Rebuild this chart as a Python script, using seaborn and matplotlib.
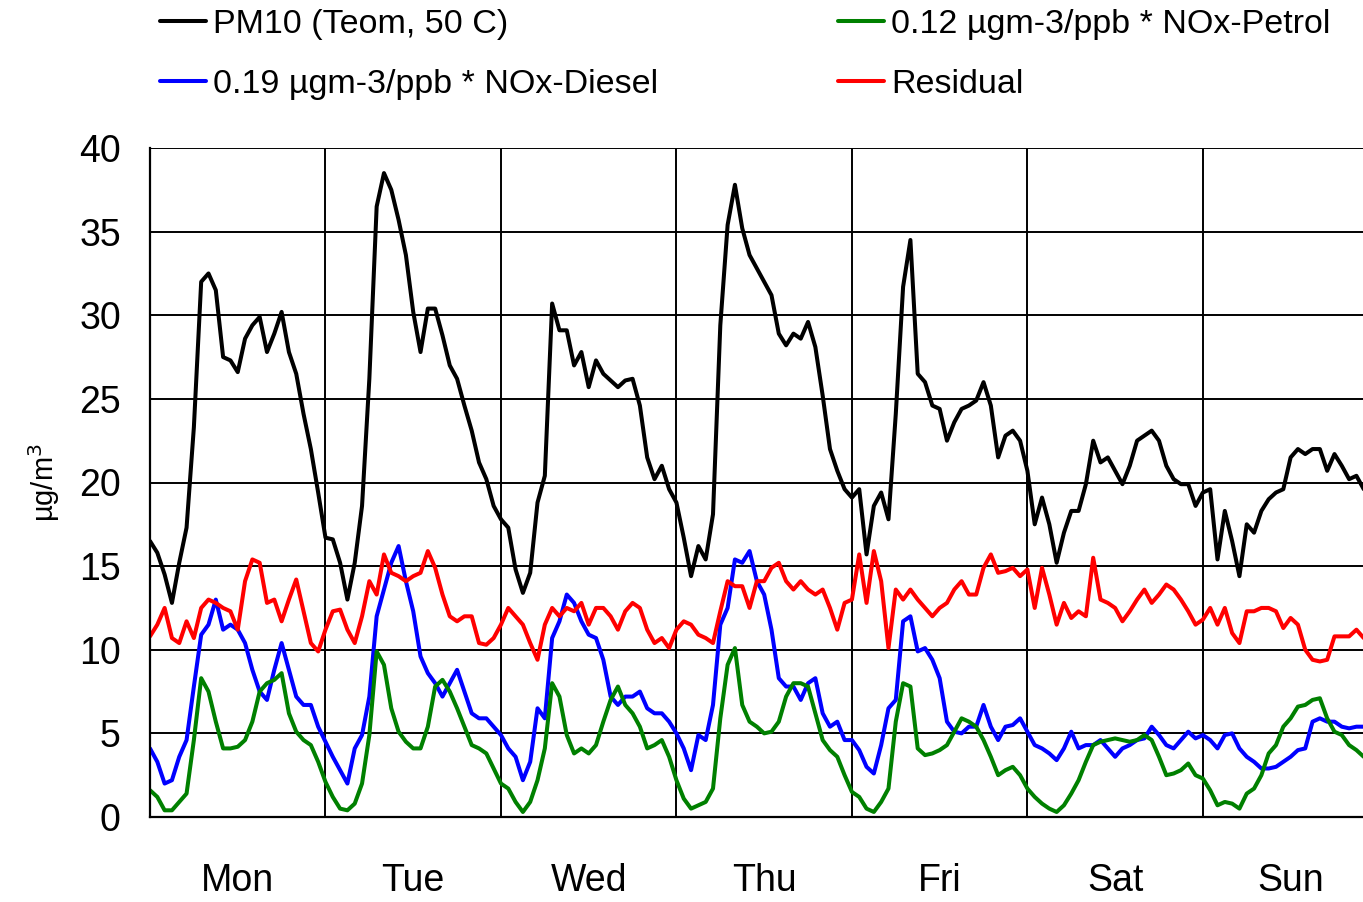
import numpy as np
import pandas as pd
import seaborn as sns
import matplotlib.pyplot as plt
from matplotlib.lines import Line2D

# 一周的小时数据 (Mon 0h ... Sun 22h)
days = ['Mon', 'Tue', 'Wed', 'Thu', 'Fri', 'Sat', 'Sun']

pm10 = [
    16.5, 15.8, 14.5, 12.8, 15.2, 17.3, 23.3, 32.0, 32.5, 31.5, 27.5, 27.3, 26.6, 28.6, 29.4, 29.9, 27.8, 28.9, 30.2, 27.8, 26.5, 24.1, 22.0, 19.4,
    16.7, 16.6, 15.2, 13.0, 15.2, 18.6, 26.2, 36.5, 38.5, 37.5, 35.7, 33.6, 30.2, 27.8, 30.4, 30.4, 28.8, 27.0, 26.2, 24.6, 23.1, 21.2, 20.2, 18.6,
    17.8, 17.3, 14.8, 13.4, 14.6, 18.8, 20.4, 30.7, 29.1, 29.1, 27.0, 27.8, 25.7, 27.3, 26.5, 26.1, 25.7, 26.1, 26.2, 24.6, 21.5, 20.2, 21.0, 19.6,
    18.8, 16.7, 14.4, 16.2, 15.4, 18.1, 29.4, 35.4, 37.8, 35.2, 33.6, 32.8, 32.0, 31.2, 28.9, 28.2, 28.9, 28.6, 29.6, 28.1, 25.2, 22.0, 20.7, 19.6,
    19.1, 19.6, 15.7, 18.6, 19.4, 17.8, 24.1, 31.7, 34.5, 26.5, 26.0, 24.6, 24.4, 22.5, 23.6, 24.4, 24.6, 24.9, 26.0, 24.6, 21.5, 22.8, 23.1, 22.5,
    20.7, 17.5, 19.1, 17.5, 15.2, 17.0, 18.3, 18.3, 19.9, 22.5, 21.2, 21.5, 20.7, 19.9, 21.0, 22.5, 22.8, 23.1, 22.5, 21.0, 20.2, 19.9, 19.9, 18.6,
    19.4, 19.6, 15.4, 18.3, 16.5, 14.4, 17.5, 17.0, 18.3, 19.0, 19.4, 19.6, 21.5, 22.0, 21.7, 22.0, 22.0, 20.7, 21.7, 21.0, 20.2, 20.4, 19.6,
]

diesel = [
    4.1, 3.3, 2.0, 2.2, 3.6, 4.6, 7.8, 10.9, 11.5, 13.0, 11.2, 11.5, 11.2, 10.4, 8.8, 7.5, 7.0, 8.8, 10.4, 8.8, 7.2, 6.7, 6.7, 5.4,
    4.5, 3.6, 2.8, 2.0, 4.1, 4.9, 7.2, 12.0, 13.6, 15.2, 16.2, 14.1, 12.3, 9.6, 8.6, 8.0, 7.2, 8.0, 8.8, 7.5, 6.2, 5.9, 5.9, 5.4,
    4.9, 4.1, 3.6, 2.2, 3.3, 6.5, 5.9, 10.7, 11.7, 13.3, 12.8, 11.7, 10.9, 10.7, 9.4, 7.2, 6.7, 7.2, 7.2, 7.5, 6.5, 6.2, 6.2, 5.7,
    5.0, 4.1, 2.8, 4.9, 4.6, 6.7, 11.5, 12.5, 15.4, 15.2, 15.9, 14.1, 13.3, 11.2, 8.3, 7.8, 7.8, 7.0, 8.0, 8.3, 6.2, 5.4, 5.7, 4.6,
    4.6, 4.0, 3.0, 2.6, 4.3, 6.5, 7.0, 11.7, 12.0, 9.9, 10.1, 9.4, 8.3, 5.7, 5.1, 5.0, 5.4, 5.4, 6.7, 5.4, 4.6, 5.4, 5.5, 5.9,
    5.1, 4.3, 4.1, 3.8, 3.4, 4.1, 5.1, 4.1, 4.3, 4.3, 4.6, 4.1, 3.6, 4.1, 4.3, 4.6, 4.7, 5.4, 4.9, 4.3, 4.1, 4.6, 5.1, 4.7,
    4.9, 4.6, 4.1, 4.9, 5.0, 4.1, 3.6, 3.3, 2.9, 2.9, 3.0, 3.3, 3.6, 4.0, 4.1, 5.7, 5.9, 5.7, 5.7, 5.4, 5.3, 5.4, 5.4,
]

petrol = [
    1.6, 1.2, 0.4, 0.4, 0.9, 1.4, 4.6, 8.3, 7.5, 5.7, 4.1, 4.1, 4.2, 4.6, 5.7, 7.5, 8.0, 8.2, 8.6, 6.2, 5.1, 4.6, 4.3, 3.3,
    2.1, 1.2, 0.5, 0.4, 0.8, 2.0, 4.9, 9.9, 9.1, 6.5, 5.1, 4.5, 4.1, 4.1, 5.4, 7.8, 8.2, 7.5, 6.5, 5.4, 4.3, 4.1, 3.8, 2.9,
    2.0, 1.7, 0.9, 0.3, 0.9, 2.2, 4.1, 8.0, 7.2, 4.9, 3.8, 4.1, 3.8, 4.3, 5.7, 7.0, 7.8, 6.7, 6.2, 5.4, 4.1, 4.3, 4.6, 3.6,
    2.2, 1.1, 0.5, 0.7, 0.9, 1.7, 5.9, 9.1, 10.1, 6.7, 5.7, 5.4, 5.0, 5.1, 5.7, 7.2, 8.0, 8.0, 7.8, 6.2, 4.6, 4.0, 3.6, 2.5,
    1.5, 1.2, 0.5, 0.3, 0.9, 1.7, 5.7, 8.0, 7.8, 4.1, 3.7, 3.8, 4.0, 4.3, 5.1, 5.9, 5.7, 5.4, 4.6, 3.6, 2.5, 2.8, 3.0, 2.5,
    1.7, 1.2, 0.8, 0.5, 0.3, 0.7, 1.4, 2.2, 3.3, 4.3, 4.5, 4.6, 4.7, 4.6, 4.5, 4.6, 4.9, 4.6, 3.6, 2.5, 2.6, 2.8, 3.2, 2.5,
    2.3, 1.6, 0.7, 0.9, 0.8, 0.5, 1.4, 1.7, 2.5, 3.8, 4.3, 5.4, 5.9, 6.6, 6.7, 7.0, 7.1, 5.9, 5.1, 4.9, 4.3, 4.0, 3.6,
]

residual = [
    10.8, 11.5, 12.5, 10.7, 10.4, 11.7, 10.7, 12.5, 13.0, 12.8, 12.5, 12.3, 11.2, 14.1, 15.4, 15.2, 12.8, 13.0, 11.7, 13.0, 14.2, 12.3, 10.4, 9.9,
    11.2, 12.3, 12.4, 11.2, 10.4, 12.0, 14.1, 13.3, 15.7, 14.6, 14.4, 14.1, 14.4, 14.6, 15.9, 14.9, 13.3, 12.0, 11.7, 12.0, 12.0, 10.4, 10.3, 10.7,
    11.5, 12.5, 12.0, 11.5, 10.4, 9.4, 11.5, 12.5, 12.0, 12.5, 12.3, 12.8, 11.5, 12.5, 12.5, 12.0, 11.2, 12.3, 12.8, 12.5, 11.2, 10.4, 10.7, 10.1,
    11.2, 11.7, 11.5, 10.9, 10.7, 10.4, 12.3, 14.1, 13.8, 13.8, 12.5, 14.1, 14.1, 14.9, 15.2, 14.1, 13.6, 14.1, 13.6, 13.3, 13.6, 12.5, 11.2, 12.8,
    13.0, 15.7, 12.8, 15.9, 14.1, 10.1, 13.6, 13.0, 13.6, 13.0, 12.5, 12.0, 12.5, 12.8, 13.6, 14.1, 13.3, 13.3, 14.9, 15.7, 14.6, 14.7, 14.9, 14.4,
    14.8, 12.5, 14.9, 13.3, 11.5, 12.8, 11.9, 12.3, 12.0, 15.5, 13.0, 12.8, 12.5, 11.7, 12.3, 13.0, 13.6, 12.8, 13.3, 13.9, 13.6, 13.0, 12.3, 11.5,
    11.8, 12.5, 11.5, 12.5, 11.0, 10.4, 12.3, 12.3, 12.5, 12.5, 12.3, 11.3, 11.9, 11.5, 10.0, 9.4, 9.3, 9.4, 10.8, 10.8, 10.8, 11.2, 10.7,
]

names = ['PM10 (Teom, 50 C)', '0.19 µgm-3/ppb * NOx-Diesel',
         '0.12 µgm-3/ppb * NOx-Petrol', 'Residual']
colors = ['black', '#0000FF', '#008000', '#FF0000']

hours = np.arange(len(pm10))
df = pd.DataFrame({'hour': hours, names[0]: pm10, names[1]: diesel,
                   names[2]: petrol, names[3]: residual})
long = df.melt(id_vars='hour', var_name='series', value_name='value')

sns.set_style("white")
plt.rcParams['font.family'] = ['Liberation Sans', 'DejaVu Sans']
plt.rcParams['text.color'] = 'black'
plt.rcParams['xtick.color'] = 'black'
plt.rcParams['ytick.color'] = 'black'
plt.rcParams['axes.labelcolor'] = 'black'

fig = plt.figure(figsize=(13.63, 9.02), dpi=100)
ax = fig.add_axes([150 / 1363, 85 / 902, 1 - 150 / 1363, 669 / 902])

sns.lineplot(data=long, x='hour', y='value', hue='series', hue_order=names,
             palette=dict(zip(names, colors)), linewidth=2.9, ax=ax, legend=False)

ax.set_yticks(np.arange(0, 41, 5))
ax.set_xticks(np.arange(0, 169, 24))
ax.set_xticklabels([])
ax.set_xticks(np.arange(12, 168, 24), minor=True)
ax.set_xticklabels(days, minor=True)
ax.set_xlim(0, 165.9)
ax.set_ylim(0, 40)
ax.tick_params(axis='x', which='minor', length=0, pad=33, labelsize=27)
ax.tick_params(axis='x', which='major', length=9, width=1.3, direction='out')
ax.tick_params(axis='y', length=7, width=1.3, pad=14, labelsize=27, direction='out')
ax.grid(True, which='major', color='black', linewidth=1.4)
for s in ['top', 'right']:
    ax.spines[s].set_visible(False)
for s in ['left', 'bottom']:
    ax.spines[s].set_color('black')
    ax.spines[s].set_linewidth(1.6)

ax.set_xlabel('')
ax.set_ylabel('µg/m$^3$', fontsize=21, labelpad=12)

handles = [Line2D([], [], color=c, linewidth=2.9) for c in colors]
fig.legend(handles, names, loc='upper left', bbox_to_anchor=(160 / 1363, 0.99),
           ncol=2, frameon=False, fontsize=24.5, handlelength=1.35, handletextpad=0.2,
           columnspacing=5.3, labelspacing=0.85, borderpad=0, borderaxespad=0)

fig.savefig('out.png', dpi=100)
